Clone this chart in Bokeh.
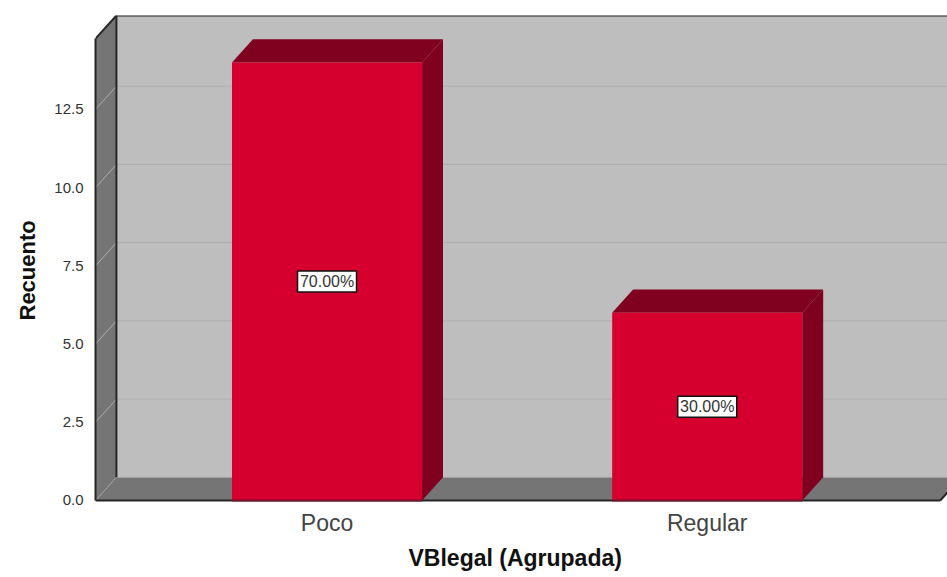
from bokeh.plotting import figure
from bokeh.models import Range1d, FixedTicker, ColumnDataSource, Title
from bokeh.core.properties import value
from bokeh.embed import file_html
from bokeh.resources import INLINE

categories = ["Poco", "Regular"]
counts = [14, 6]
percents = ["70.00%", "30.00%"]
y_ticks = [0, 2.5, 5, 7.5, 10, 12.5]
y_tick_labels = ["0.0", "2.5", "5.0", "7.5", "10.0", "12.5"]
x_title = "VBlegal (Agrupada)"
y_title = "Recuento"

FONT = "Liberation Sans"
BAR_W = 0.5
DX = 0.055   # depth offset in category units
DY = 0.74    # depth offset in count units
X0, X1, X_END = -0.609, 1.632, 1.613
Y0, Y1 = -0.064, 15.5
Y_FRONT_TOP = Y1 - DY

p = figure(width=947, height=577, output_backend="svg", toolbar_location=None,
           x_range=Range1d(X0, X1), y_range=Range1d(Y0, Y1),
           min_border_left=95, min_border_right=0, min_border_top=15, min_border_bottom=75,
           background_fill_color="white", border_fill_color="white", outline_line_color=None)
p.grid.visible = False

WALL, SIDE, EDGE = "#bebebe", "#757575", "#262626"
FRONT, DARK = "#d6002f", "#80001f"

# walls and floor
p.patch([X0 + DX, X1 + 1, X1 + 1, X0 + DX], [DY, DY, Y1, Y1], fill_color=WALL, line_color=None)
p.patch([X0, X0 + DX, X0 + DX, X0], [0, DY, Y1, Y_FRONT_TOP], fill_color=SIDE, line_color=None)
p.patch([X0, X_END, X_END + DX, X0 + DX], [0, 0, DY, DY], fill_color=SIDE, line_color=None)

# gridlines on back and side walls
grid = y_ticks[1:]
p.multi_line([[X0, X0 + DX, X1 + 1] for _ in grid],
             [[v, v + DY, v + DY] for v in grid], line_color="#adadad", line_width=1)
p.line([X0, X0 + DX], [0, DY], line_color="#a9a9a9", line_width=1, line_dash="2 1")
p.line([X0 + DX, X1 + 1], [DY, DY], line_color="#a6a6a6", line_width=1)

# wall edges and baseline
p.line([X0, X0 + DX, X1 + 1], [Y_FRONT_TOP, Y1, Y1], line_color=EDGE, line_width=2)
p.line([X0 + DX, X0 + DX], [DY, Y1], line_color=EDGE, line_width=2)
p.line([X_END, X_END + DX], [0, DY], line_color=EDGE, line_width=2)
p.line([X0, X_END], [0, 0], line_color=EDGE, line_width=2)

# 3D bars
xs = list(range(len(categories)))
for x, v in zip(xs, counts):
    l, r = x - BAR_W / 2, x + BAR_W / 2
    p.patch([r, r + DX, r + DX, r], [0, DY, v + DY, v], fill_color=DARK, line_color=None)
    p.patch([l, r, r + DX, l + DX], [v, v, v + DY, v + DY], fill_color=DARK, line_color=None)
    p.quad(left=l, right=r, bottom=0, top=v, fill_color=FRONT, line_color=None)
    p.line([l, r], [0, 0], line_color="#7a1030", line_width=2)

# percent labels
src = ColumnDataSource(dict(x=xs, y=[v / 2 for v in counts], t=percents))
p.rect(x="x", y="y", source=src, width=59, height=21, width_units="screen", height_units="screen",
       fill_color="white", line_color="#111111", line_width=1.5)
p.text(x="x", y="y", text="t", source=src, text_align="center", text_baseline="middle",
       text_font=value(FONT), text_font_size="16px", text_color="#333333")

# axes
xa = p.xaxis[0]
xa.ticker = FixedTicker(ticks=xs)
xa.major_label_overrides = dict(zip(xs, categories))
xa.major_label_text_font = FONT
xa.major_label_text_font_size = "23px"
xa.major_label_text_color = "#444444"
xa.major_label_standoff = 1
xa.major_tick_line_color = None
xa.minor_tick_line_color = None
xa.axis_line_color = None

ya = p.yaxis[0]
ya.ticker = FixedTicker(ticks=y_ticks)
ya.major_label_overrides = dict(zip(y_ticks, y_tick_labels))
ya.bounds = (0, Y_FRONT_TOP)
ya.major_label_text_font = FONT
ya.major_label_text_font_size = "15px"
ya.major_label_text_color = "#333333"
ya.major_label_standoff = 6
ya.major_tick_line_color = None
ya.minor_tick_line_color = None
ya.axis_line_color = EDGE
ya.axis_line_width = 2

# axis titles, placed off the axis centre as in the reference
p.add_layout(Title(text=x_title, align="left", offset=313, standoff=8, text_font=FONT,
                   text_font_style="bold", text_font_size="23px", text_color="#111111"), "below")
p.add_layout(Title(text=y_title, align="left", offset=182, standoff=23, text_font=FONT,
                   text_font_style="bold", text_font_size="22px", text_color="#111111"), "left")

open("out.html", "w").write(file_html(p, INLINE))
